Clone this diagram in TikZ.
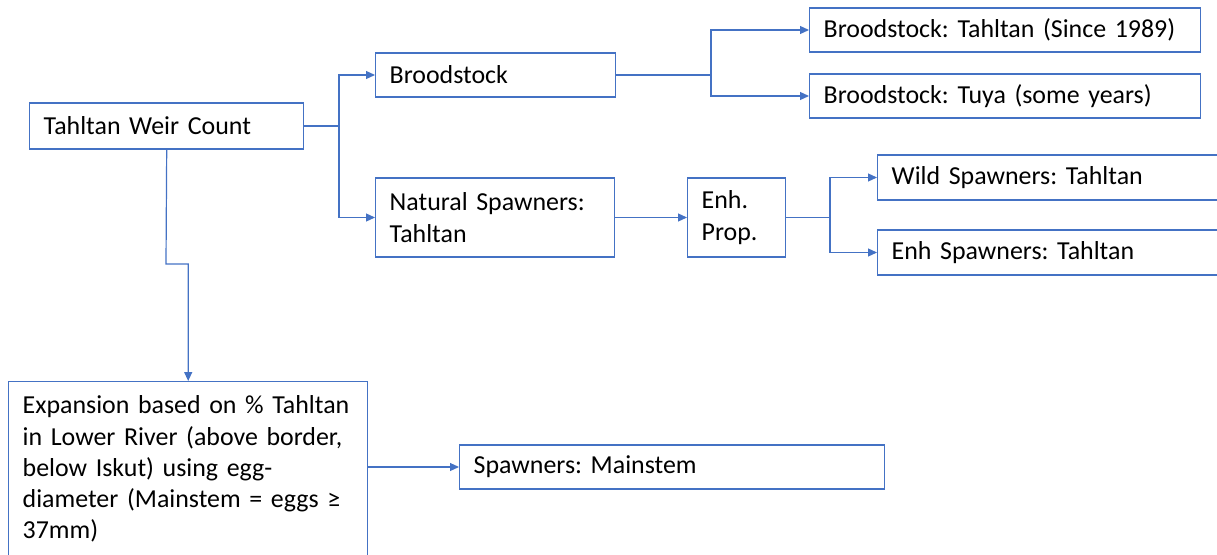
\documentclass[tikz,border=0pt]{standalone}
\usepackage{fontspec}
\setmainfont{Carlito}
\frenchspacing
\usetikzlibrary{arrows.meta}
\definecolor{obl}{HTML}{4472C4}
\begin{document}
\begin{tikzpicture}[x=1pt,y=-1pt,
  box/.style={draw=obl,line width=1.4pt,anchor=west,align=left,inner xsep=14pt,inner ysep=0pt,
    font=\fontsize{25.9}{31.3}\selectfont},
  conn/.style={draw=obl,line width=1.2pt},
  arr/.style={conn,-{Triangle[length=9pt,width=8pt]}}]
\useasboundingbox (0,0) rectangle (1217,554);
\node[box,text width=246pt,minimum height=46pt] (weir) at (29,126) {Tahltan Weir Count};
\node[box,text width=212pt,minimum height=44pt] (brood) at (375,75) {Broodstock};
\node[box,text width=363pt,minimum height=44pt] (bt) at (809,30) {Broodstock: Tahltan (Since 1989)};
\node[box,text width=363pt,minimum height=44pt] (btuya) at (809,96) {Broodstock: Tuya (some years)};
\node[box,text width=211pt,minimum height=79pt] (nat) at (375,217.5) {Natural Spawners:\\Tahltan};
\node[box,text width=70pt,minimum height=79pt] (enh) at (687,217.5) {Enh.\\Prop.};
\node[box,text width=322pt,minimum height=45pt] (wild) at (877,177.5) {Wild Spawners: Tahltan};
\node[box,text width=322pt,minimum height=45pt] (enhsp) at (877,252.5) {Enh Spawners: Tahltan};
\node[box,text width=397pt,minimum height=44pt] (main) at (459,467) {Spawners: Mainstem};
\node[box,anchor=north west,text width=331pt,inner ysep=0pt,
  align=left] (exp) at (8,381) {\rule{0pt}{32pt}Expansion based on \% Tahltan\\in Lower River (above border,\\below Iskut) using egg-\\diameter (Mainstem = eggs ≥\\37mm)\\[40pt]\mbox{}};
\coordinate (j1) at (339,126);
\coordinate (j2) at (711,75);
\coordinate (j3) at (830,217.5);
\coordinate (j4) at (166,264);
\draw[conn] (weir.east) -- (j1);
\draw[arr] (j1) |- (brood.west);
\draw[arr] (j1) |- (nat.west);
\draw[conn] (brood.east) -- (j2);
\draw[arr] (j2) |- (bt.west);
\draw[arr] (j2) |- (btuya.west);
\draw[arr] (nat.east) -- (enh.west);
\draw[conn] (enh.east) -- (j3);
\draw[arr] (j3) |- (wild.west);
\draw[arr] (j3) |- (enhsp.west);
\draw[arr] (weir.south) -- (j4) -| (exp.north);
\draw[arr] (exp.east |- main.west) -- (main.west);
\end{tikzpicture}
\end{document}
